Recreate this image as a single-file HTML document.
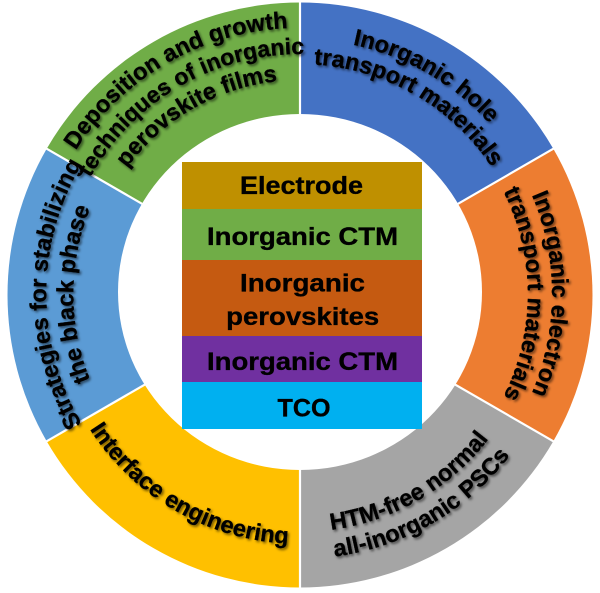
<!DOCTYPE html>
<html>
<head>
<meta charset="utf-8">
<style>
html,body{margin:0;padding:0;background:#fff;}
svg{display:block;}
text{font-family:"Liberation Sans",Arial,sans-serif;font-weight:bold;fill:#000;}
</style>
</head>
<body>
<svg width="600" height="593" viewBox="0 0 600 593" xmlns="http://www.w3.org/2000/svg">
<defs>
<filter id="sh" x="-10%" y="-10%" width="120%" height="120%">
<feDropShadow dx="1.6" dy="1.8" stdDeviation="1.2" flood-color="#000" flood-opacity="0.55"/>
</filter>
<path id="bt1" d="M104.7,130.1 A255,255 0 0 1 539.6,381.2"/>
<path id="bt2" d="M123.8,146.2 A230,230 0 0 1 516.1,372.7"/>
<path id="or1" d="M343.7,45.8 A252,252 0 0 1 343.7,542.2"/>
<path id="or2" d="M339.6,69.5 A228,228 0 0 1 339.6,518.5"/>
<path id="lb1" d="M255.9,544.1 A254,254 0 0 1 255.9,43.9"/>
<path id="lb2" d="M260.6,517.5 A227,227 0 0 1 260.6,70.5"/>
<path id="gr1" d="M50.0,385.0 A266,266 0 0 1 503.8,123.0"/>
<path id="gr2" d="M74.5,376.1 A240,240 0 0 1 483.8,139.7"/>
<path id="gr3" d="M98.9,367.2 A214,214 0 0 1 463.9,156.4"/>
<path id="gy1" d="M117.7,447.0 A238,238 0 0 0 523.6,212.6"/>
<path id="gy2" d="M97.0,464.3 A265,265 0 0 0 549.0,203.4"/>
<path id="ye1" d="M65.1,208.5 A250,250 0 0 0 491.5,454.7"/>
</defs>

<path d="M300,295 L300,2.5 A292.5,292.5 0 0 1 553.3,148.75 Z" fill="#4472C4"/>
<path d="M300,295 L553.3,148.75 A292.5,292.5 0 0 1 553.3,441.25 Z" fill="#ED7D31"/>
<path d="M300,295 L553.3,441.25 A292.5,292.5 0 0 1 300,587.5 Z" fill="#A5A5A5"/>
<path d="M300,295 L300,587.5 A292.5,292.5 0 0 1 46.7,441.25 Z" fill="#FFC000"/>
<path d="M300,295 L46.7,441.25 A292.5,292.5 0 0 1 46.7,148.75 Z" fill="#5B9BD5"/>
<path d="M300,295 L46.7,148.75 A292.5,292.5 0 0 1 300,2.5 Z" fill="#70AD47"/>

<g stroke="#fff" stroke-width="2.2">
<line x1="300" y1="295" x2="300" y2="0"/>
<line x1="300" y1="295" x2="300" y2="593"/>
<line x1="300" y1="295" x2="556" y2="147.2"/>
<line x1="300" y1="295" x2="556" y2="442.8"/>
<line x1="300" y1="295" x2="44" y2="147.2"/>
<line x1="300" y1="295" x2="44" y2="442.8"/>
</g>

<ellipse cx="300" cy="292" rx="182" ry="178" fill="#fff"/>

<rect x="182" y="162" width="240" height="47" fill="#BF9000"/>
<rect x="182" y="209" width="240" height="51" fill="#70AD47"/>
<rect x="182" y="260" width="240" height="76" fill="#C55A11"/>
<rect x="182" y="336" width="240" height="46" fill="#7030A0"/>
<rect x="182" y="382" width="240" height="47" fill="#00B0F0"/>

<g font-size="25" text-anchor="middle" stroke="#000" stroke-width="0.35">
<text x="301.5" y="194" textLength="123" lengthAdjust="spacingAndGlyphs">Electrode</text>
<text x="302.5" y="245" textLength="191" lengthAdjust="spacingAndGlyphs">Inorganic CTM</text>
<text x="302.5" y="291.5" textLength="125" lengthAdjust="spacingAndGlyphs">Inorganic</text>
<text x="302.7" y="325" textLength="153" lengthAdjust="spacingAndGlyphs">perovskites</text>
<text x="302.5" y="370" textLength="191" lengthAdjust="spacingAndGlyphs">Inorganic CTM</text>
<text x="304" y="416.5" textLength="53" lengthAdjust="spacingAndGlyphs">TCO</text>
</g>

<g font-size="23.5" text-anchor="middle" filter="url(#sh)" stroke="#000" stroke-width="0.3">
<text><textPath href="#bt1" startOffset="50%">Inorganic hole</textPath></text>
<text><textPath href="#bt2" startOffset="50%">transport materials</textPath></text>

<text><textPath href="#or1" startOffset="50%">Inorganic electron</textPath></text>
<text><textPath href="#or2" startOffset="50%">transport materials</textPath></text>

<text><textPath href="#lb1" startOffset="50%">Strategies for stabilizing</textPath></text>
<text><textPath href="#lb2" startOffset="50%">the black phase</textPath></text>

<text><textPath href="#gr1" startOffset="50%">Deposition and growth</textPath></text>
<text font-size="23"><textPath href="#gr2" startOffset="50%">techniques of inorganic</textPath></text>
<text><textPath href="#gr3" startOffset="50%">perovskite films</textPath></text>

<text><textPath href="#gy1" startOffset="50%">HTM-free normal</textPath></text>
<text><textPath href="#gy2" startOffset="50%">all-inorganic PSCs</textPath></text>

<text><textPath href="#ye1" startOffset="50%">Interface engineering</textPath></text>
</g>
</svg>
</body>
</html>
